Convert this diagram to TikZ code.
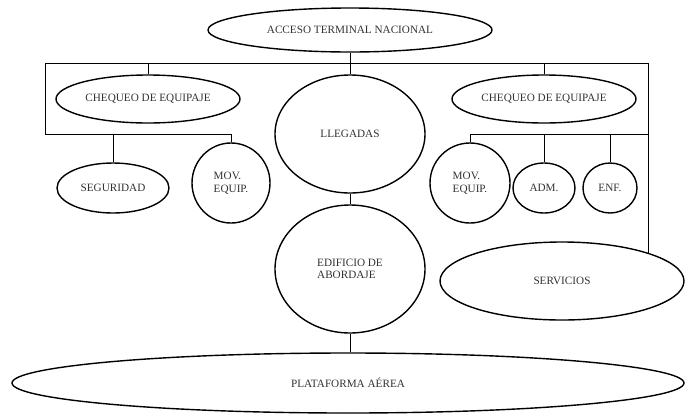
\documentclass[tikz,border=0pt]{standalone}
\usepackage{fontspec}
\setmainfont{Liberation Serif}
\usetikzlibrary{shapes.geometric}
\begin{document}
\begin{tikzpicture}[x=1pt,y=-1pt,
  blob/.style={ellipse, draw=black, line width=1.4pt, fill=white, inner sep=0pt,
    text=black!80, font=\fontsize{11.2}{12.5}\selectfont, align=left},
  link/.style={draw=black, line width=1pt}]
\useasboundingbox (0,0) rectangle (685,416);

% top access and the two central buildings
\node[blob, minimum width=284, minimum height=44] (acc) at (350,30) {ACCESO TERMINAL NACIONAL};
\node[blob, minimum width=150, minimum height=118] (llg) at (350,134) {LLEGADAS};
\node[blob, minimum width=150, minimum height=128] (edf) at (350,269) {EDIFICIO DE\\ABORDAJE};
\node[blob, minimum width=672, minimum height=60] (plat) at (348,383) {PLATAFORMA AÉREA};

% left branch
\node[blob, minimum width=184, minimum height=48] (chl) at (148,99) {CHEQUEO DE EQUIPAJE};
\node[blob, minimum width=112, minimum height=50] (seg) at (113,188) {SEGURIDAD};
\node[blob, minimum width=78, minimum height=80] (movl) at (231,183) {MOV.\\EQUIP.};

% right branch
\node[blob, minimum width=184, minimum height=48] (chr) at (544,99) {CHEQUEO DE EQUIPAJE};
\node[blob, minimum width=80, minimum height=80] (movr) at (470,183) {MOV.\\EQUIP.};
\node[blob, minimum width=62, minimum height=50] (adm) at (544,188) {ADM.};
\node[blob, minimum width=54, minimum height=50] (enf) at (610,188) {ENF.};
\node[blob, minimum width=244, minimum height=78] (serv) at (562,281) {SERVICIOS};

% bus corners
\coordinate (tl) at (45,63);
\coordinate (tr) at (648,63);
\coordinate (bl) at (45,134);
\coordinate (br) at (648,134);

% main bus
\draw[link] (tl) -- (tr);
\draw[link] (acc.south) -- (llg.north);
\draw[link] (llg.south) -- (edf.north);
\draw[link] (edf.south) -- (edf.south |- plat.north);

% left connections
\draw[link] (chl.north) -- (chl.north |- tl);
\draw[link] (tl) -- (bl) -| (movl.north);
\draw[link] (seg.north) -- (seg.north |- bl);

% right connections
\draw[link] (chr.north) -- (chr.north |- tr);
\draw[link] (tr) -- (tr |- serv.18);
\draw[link] (br) -| (movr.north);
\draw[link] (adm.north) -- (adm.north |- br);
\draw[link] (enf.north) -- (enf.north |- br);
\end{tikzpicture}
\end{document}
